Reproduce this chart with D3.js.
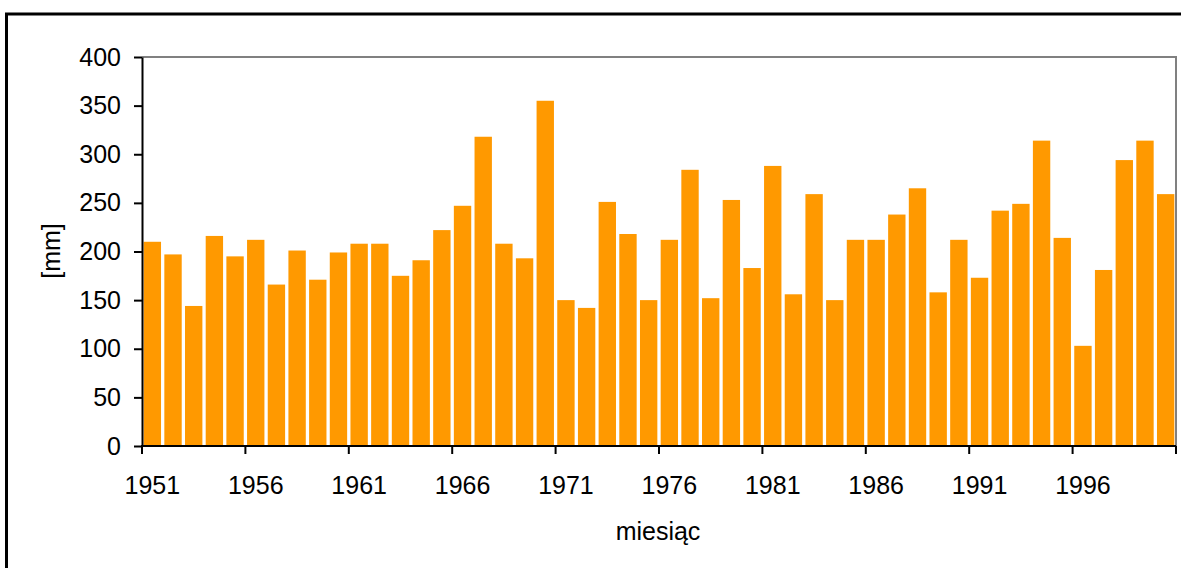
<!DOCTYPE html>
<html>
<head>
<meta charset="utf-8">
<script src="https://cdn.jsdelivr.net/npm/d3@7"></script>
<style>
  html, body { margin: 0; padding: 0; background: #fff; }
  svg { display: block; }
  text { font-family: "Liberation Sans", Arial, sans-serif; fill: #000; }
</style>
</head>
<body>
<svg id="chart" width="1181" height="568"></svg>
<script>
const years = d3.range(1951, 2001);
const precip = [
  210, 197, 144, 216, 195, 212, 166, 201, 171, 199,
  208, 208, 175, 191, 222, 247, 318, 208, 193, 355,
  150, 142, 251, 218, 150, 212, 284, 152, 253, 183,
  288, 156, 259, 150, 212, 212, 238, 265, 158, 212,
  173, 242, 249, 314, 214, 103, 181, 294, 314, 259
];
const yTicks = [0, 50, 100, 150, 200, 250, 300, 350, 400];
const xLabelYears = [1951, 1956, 1961, 1966, 1971, 1976, 1981, 1986, 1991, 1996];
const yTitle = "[mm]";
const xTitle = "miesiąc";

const FS = 25;
const svg = d3.select("#chart");
const W = 1181, H = 568;
const plot = { left: 142, right: 1176, top: 57, bottom: 446 };

// outer frame
svg.append("rect").attr("x", 6.5).attr("y", 14).attr("width", W + 10).attr("height", H + 10)
  .attr("fill", "#fff").attr("stroke", "#000").attr("stroke-width", 3);

const x = d3.scaleBand().domain(years).range([plot.left, plot.right])
  .paddingInner(0.16).paddingOuter(0.08);
const y = d3.scaleLinear().domain([0, 400]).range([plot.bottom, plot.top]);
const step = x.step();

// plot area border (top/right gray)
svg.append("path")
  .attr("d", `M${plot.left},${plot.top}H${plot.right}V${plot.bottom}`)
  .attr("fill", "none").attr("stroke", "#808080").attr("stroke-width", 2);

// bars
svg.append("g").selectAll("rect").data(years.map((yr, i) => ({ yr, v: precip[i] })))
  .join("rect")
  .attr("x", d => x(d.yr))
  .attr("width", x.bandwidth())
  .attr("y", d => y(d.v))
  .attr("height", d => y(0) - y(d.v))
  .attr("fill", "#FF9900");

// y axis
const yAxis = svg.append("g").attr("transform", `translate(${plot.left},0)`)
  .call(d3.axisLeft(y).tickValues(yTicks).tickSize(8).tickPadding(13).tickSizeOuter(0));
yAxis.select(".domain").attr("stroke", "#000").attr("stroke-width", 2);
yAxis.selectAll(".tick line").attr("stroke", "#000").attr("stroke-width", 2);
yAxis.selectAll("text").attr("font-size", FS).attr("font-family", "Liberation Sans, Arial, sans-serif").attr("fill", "#000");

// x axis labels
const xAxis = svg.append("g").attr("transform", `translate(0,${plot.bottom})`)
  .call(d3.axisBottom(x).tickValues(xLabelYears).tickSize(0).tickPadding(30).tickSizeOuter(0));
xAxis.select(".domain").remove();
xAxis.selectAll("text").attr("font-size", FS).attr("font-family", "Liberation Sans, Arial, sans-serif").attr("fill", "#000");

// x axis line and tick marks at category boundaries
const boundaryYears = xLabelYears.concat([2001]);
const bx = yr => (yr <= 2000 ? x(yr) - step * x.paddingInner() / 2 : plot.right);
svg.append("line").attr("x1", plot.left - 1).attr("x2", plot.right).attr("y1", plot.bottom).attr("y2", plot.bottom)
  .attr("stroke", "#000").attr("stroke-width", 2);
svg.append("g").selectAll("line").data(boundaryYears).join("line")
  .attr("x1", d => bx(d)).attr("x2", d => bx(d))
  .attr("y1", plot.bottom).attr("y2", plot.bottom + 8)
  .attr("stroke", "#000").attr("stroke-width", 2);

// titles
svg.append("text").attr("transform", `translate(60,251) rotate(-90)`)
  .attr("text-anchor", "middle").attr("font-size", FS).text(yTitle);
svg.append("text").attr("x", 658).attr("y", 540)
  .attr("text-anchor", "middle").attr("font-size", FS).text(xTitle);
</script>
</body>
</html>
